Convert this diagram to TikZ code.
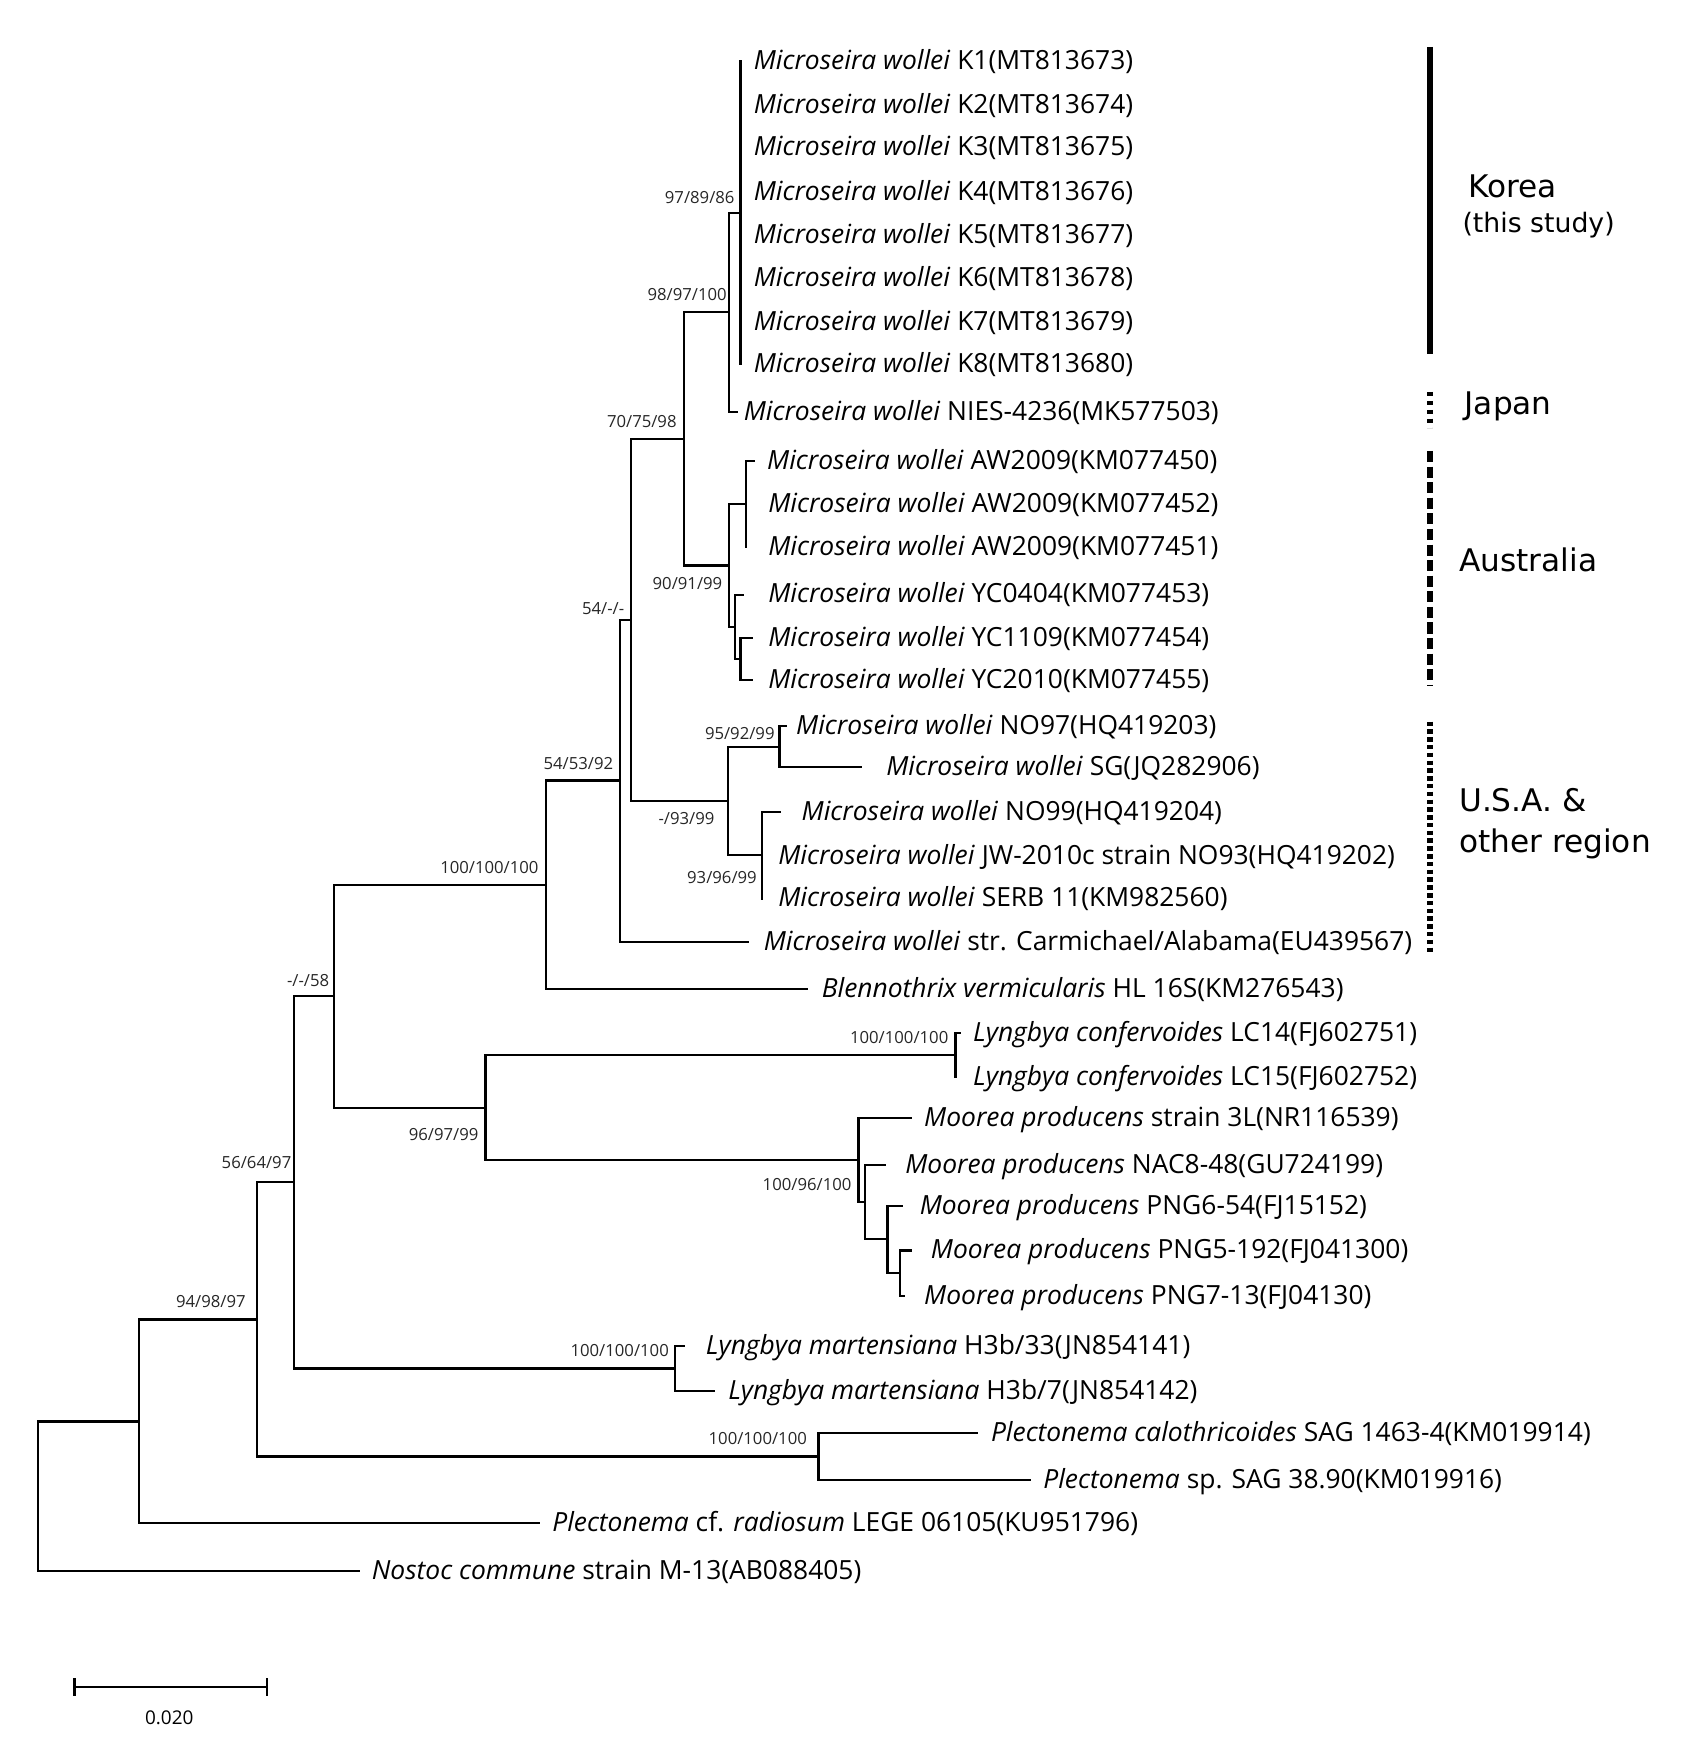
\documentclass[tikz,border=0pt]{standalone}
\usepackage{fontspec}
\setmainfont{Open Sans}
\newfontfamily\regionfont{DejaVu Sans}
\usetikzlibrary{positioning}

\newcommand{\mwol}{\textit{Microseira wollei}}
\newcommand{\mprod}{\textit{Moorea producens}}

\begin{document}
\begin{tikzpicture}[
    x=0.5pt, y=-0.5pt,
    branch/.style={
        line width=1pt,
        line cap=rect
    },
    leaf/.style={
        anchor=west,
        inner xsep=0pt,
        inner ysep=0pt,
        outer xsep=#1,
        text height=1.75ex,
        text depth=0.35ex,
        font=\fontsize{11.85}{13}\selectfont
    },
    leaf/.default=6pt,
    boot/.style={
        inner sep=0pt,
        text height=1.4ex,
        text depth=0pt,
        font=\fontsize{7.5}{9}\selectfont,
        text=black!85
    },
    region/.style={
        anchor=west,
        inner sep=0pt,
        align=left,
        font=\regionfont\fontsize{14}{18.5}\selectfont
    },
    bar/.style={
        line width=2.8pt
    }
]
\useasboundingbox (0,0) rectangle (1528,1568);

% leaves
\node[leaf] (k1) at (665,55) {\mwol{} K1(MT813673)};
\node[leaf] (k2) at (665,94) {\mwol{} K2(MT813674)};
\node[leaf] (k3) at (665,132) {\mwol{} K3(MT813675)};
\node[leaf] (k4) at (665,173) {\mwol{} K4(MT813676)};
\node[leaf] (k5) at (665,211) {\mwol{} K5(MT813677)};
\node[leaf] (k6) at (665,250) {\mwol{} K6(MT813678)};
\node[leaf] (k7) at (665,289) {\mwol{} K7(MT813679)};
\node[leaf] (k8) at (665,327) {\mwol{} K8(MT813680)};
\node[leaf=3pt] (nies) at (662,370) {\mwol{} NIES-4236(MK577503)};
\node[leaf] (aw450) at (677,414) {\mwol{} AW2009(KM077450)};
\node[leaf=10pt] (aw452) at (670,453) {\mwol{} AW2009(KM077452)};
\node[leaf=10pt] (aw451) at (670,491) {\mwol{} AW2009(KM077451)};
\node[leaf=11.5pt] (yc0404) at (667,534) {\mwol{} YC0404(KM077453)};
\node[leaf=7.5pt] (yc1109) at (675,573) {\mwol{} YC1109(KM077454)};
\node[leaf=7.5pt] (yc2010) at (675,611) {\mwol{} YC2010(KM077455)};
\node[leaf=4.5pt] (no97) at (706,652) {\mwol{} NO97(HQ419203)};
\node[leaf=11.5pt] (sg) at (773,689) {\mwol{} SG(JQ282906)};
\node[leaf=10pt] (no99) at (700,729) {\mwol{} NO99(HQ419204)};
\node[leaf=7.5pt] (no93) at (684,769) {\mwol{} JW-2010c strain NO93(HQ419202)};
\node[leaf=7.5pt] (serb) at (684,807) {\mwol{} SERB 11(KM982560)};
\node[leaf=7pt] (carm) at (672,846) {\mwol{} str. Carmichael/Alabama(EU439567)};
\node[leaf=6.5pt] (blenno) at (725,888) {\textit{Blennothrix vermicularis} HL 16S(KM276543)};
\node[leaf] (lc14) at (862,928) {\textit{Lyngbya confervoides} LC14(FJ602751)};
\node[leaf=8pt] (lc15) at (858,967) {\textit{Lyngbya confervoides} LC15(FJ602752)};
\node[leaf] (p3l) at (818,1004) {\mprod{} strain 3L(NR116539)};
\node[leaf=9pt] (nac8) at (795,1046) {\mprod{} NAC8-48(GU724199)};
\node[leaf=8pt] (png6) at (810,1083) {\mprod{} PNG6-54(FJ15152)};
\node[leaf=9pt] (png5) at (818,1123) {\mprod{} PNG5-192(FJ041300)};
\node[leaf=9pt] (png7) at (812,1164) {\mprod{} PNG7-13(FJ04130)};
\node[leaf=10pt] (h33) at (614,1209) {\textit{Lyngbya martensiana} H3b/33(JN854141)};
\node[leaf=6.5pt] (h7) at (641,1249) {\textit{Lyngbya martensiana} H3b/7(JN854142)};
\node[leaf=6.5pt] (sag1463) at (877,1287) {\textit{Plectonema calothricoides} SAG 1463-4(KM019914)};
\node[leaf] (sag38) at (925,1329) {\textit{Plectonema} sp. SAG 38.90(KM019916)};
\node[leaf] (lege) at (484,1368) {\textit{Plectonema} cf. \textit{radiosum} LEGE 06105(KU951796)};
\node[leaf] (nostoc) at (322,1411) {\textit{Nostoc commune} strain M-13(AB088405)};

% inner nodes
\coordinate (korea) at (665,191);
\coordinate (japkor) at (655,280.5);
\coordinate (awc) at (670,452.5);
\coordinate (ycb) at (665,592);
\coordinate (yca) at (660,563);
\coordinate (austr) at (655,507.75);
\coordinate (asia) at (614,394);
\coordinate (no97c) at (700,670.5);
\coordinate (no93c) at (684,768);
\coordinate (usa) at (654,719);
\coordinate (mwa) at (567,556.5);
\coordinate (mwb) at (557,701);
\coordinate (mwall) at (490,794.5);
\coordinate (lconf) at (858,947.5);
\coordinate (mood) at (808,1143.5);
\coordinate (mooc) at (797,1113);
\coordinate (moob) at (777,1079.5);
\coordinate (mooa) at (771,1042);
\coordinate (lymo) at (436,994.75);
\coordinate (big) at (300,894.6);
\coordinate (lmart) at (606,1229);
\coordinate (lyng) at (264,1061.8);
\coordinate (plect) at (735,1308);
\coordinate (ingr) at (231,1184.9);
\coordinate (ingr2) at (125,1276.5);
\coordinate (root) at (34,1343.75);

% branches
\foreach \p/\c in {root/ingr2, root/nostoc, ingr2/ingr, ingr2/lege,
    ingr/lyng, ingr/plect, plect/sag1463, plect/sag38,
    lyng/big, lyng/lmart, lmart/h33, lmart/h7,
    big/mwall, big/lymo, lymo/lconf, lymo/mooa,
    lconf/lc14, lconf/lc15, mooa/p3l, mooa/moob,
    moob/nac8, moob/mooc, mooc/png6, mooc/mood, mood/png5, mood/png7,
    mwall/mwb, mwall/blenno, mwb/mwa, mwb/carm,
    mwa/asia, mwa/usa, usa/no97c, usa/no93c,
    no97c/no97, no97c/sg, no93c/no99, no93c/no93, no93c/serb,
    asia/japkor, asia/austr, austr/awc, austr/yca,
    awc/aw450, awc/aw452, awc/aw451, yca/yc0404, yca/ycb,
    ycb/yc1109, ycb/yc2010, japkor/korea, japkor/nies,
    korea/k1, korea/k2, korea/k3, korea/k4,
    korea/k5, korea/k6, korea/k7, korea/k8}
    \draw[branch] (\p) |- (\c);

% support values
\node[boot, above left=4pt and 2.5pt of korea] {97/89/86};
\node[boot, above left=5pt and 1pt of japkor] {98/97/100};
\node[boot, above left=5pt and 3pt of asia] {70/75/98};
\node[boot, below left=3pt and 3pt of austr] {90/91/99};
\node[boot, above left=2pt and 3pt of mwa] {54/-/-};
\node[boot, above left=5pt and 3pt of mwb] {54/53/92};
\node[boot, below left=3pt and 6pt of usa] {-/93/99};
\node[boot, above left=3pt and 2pt of no97c] {95/92/99};
\node[boot, below left=5pt and 2pt of no93c] {93/96/99};
\node[boot, above left=5pt and 3pt of mwall] {100/100/100};
\node[boot, above left=4pt and 2pt of big] {-/-/58};
\node[boot, below left=7pt and 3pt of lymo] {96/97/99};
\node[boot, above left=5pt and 3pt of lconf] {100/100/100};
\node[boot, below left=6pt and 3pt of mooa] {100/96/100};
\node[boot, above left=6pt and 1pt of lyng] {56/64/97};
\node[boot, above left=5pt and 2.5pt of lmart] {100/100/100};
\node[boot, above left=5pt and 5pt of plect] {100/100/100};
\node[boot, above left=5pt and 5pt of ingr] {94/98/97};

% regions
\draw[bar] (1284,42) -- (1284,318);
\draw[bar, dash pattern=on 2pt off 2pt] (1284,352) -- (1284,384);
\draw[bar, dash pattern=on 5pt off 2pt] (1284,405) -- (1284,616);
\draw[bar, dash pattern=on 2pt off 1.5pt] (1284,648) -- (1284,858);
\node[region] (kor) at (1318,167) {Korea};
\node[region, font=\regionfont\fontsize{12}{14}\selectfont] (kors) at (1313,202) {(this study)};
\node[region] (jap) at (1315,365) {Japan};
\node[region] (aus) at (1310,503) {Australia};
\node[region] (oth) at (1310,740) {U.S.A. \&\\other region};

% scale bar
\coordinate (sbl) at (67,1515);
\coordinate (sbr) at (240,1515);
\draw[branch] (sbl) -- (sbr);
\draw[branch] ([yshift=3.5pt]sbl) -- ([yshift=-3.5pt]sbl);
\draw[branch] ([yshift=3.5pt]sbr) -- ([yshift=-3.5pt]sbr);
\node[font=\fontsize{8.5}{10}\selectfont] (sbt) at (152,1543) {0.020};

\end{tikzpicture}
\end{document}
